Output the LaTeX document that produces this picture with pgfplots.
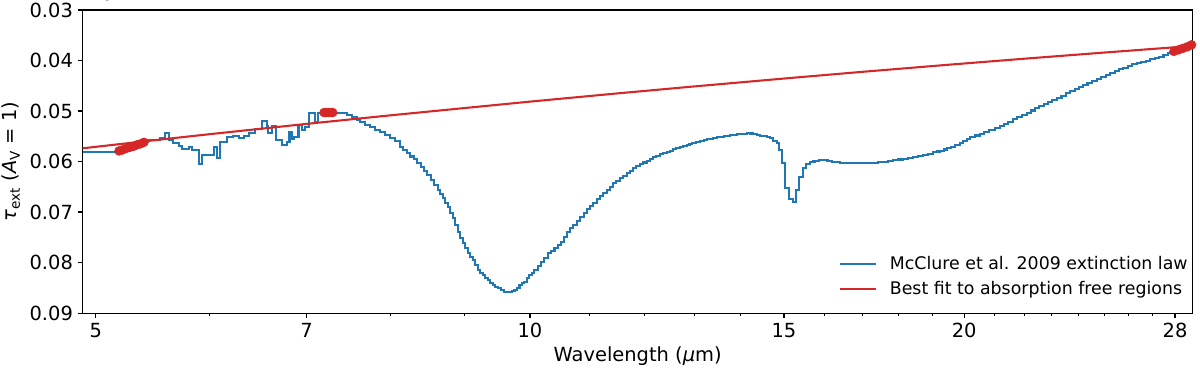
\documentclass[border=0pt]{standalone}
\usepackage{fontspec}
\setmainfont{DejaVu Sans}
\usepackage{pgfplots}
\pgfplotsset{compat=1.18}
\definecolor{mplblue}{HTML}{1F77B4}
\definecolor{mplred}{HTML}{D62728}
\begin{document}
\begin{tikzpicture}
\useasboundingbox (-59.5pt,-41.8pt) rectangle (804.5pt,225.4pt);
\begin{axis}[
    at={(0,0)}, anchor=south west,
    width=799.2pt, height=218.2pt, scale only axis,
    xmode=log, xmin=4.897, xmax=28.8,
    ymin=0.03, ymax=0.09, y dir=reverse,
    xtick={5,7,10,15,20,28},
    xticklabels={5,7,10,15,20,28},
    minor xtick={6,8,9,11,12,13,14,16,17,18,19,21,22,23,24,25,26,27},
    ytick={0.03,0.04,0.05,0.06,0.07,0.08,0.09},
    yticklabels={0.03,0.04,0.05,0.06,0.07,0.08,0.09},
    tick align=outside, tick pos=left,
    major tick length=3.5pt, minor tick length=2pt,
    every major tick/.append style={line width=0.8pt, black},
    every minor tick/.append style={line width=0.6pt, black},
    axis line style={line width=0.8pt, black},
    ticklabel style={font=\fontsize{14}{16}\selectfont},
    yticklabel style={inner ysep=1pt},
    label style={font=\fontsize{14}{17}\selectfont},
    xlabel={Wavelength ({\itshape μ}m)},
    ylabel={{\itshape τ}\textsubscript{ext} ({\itshape A}\textsubscript{V} = 1)},
    legend style={draw=none, fill=none, at={(axis description cs:1.002,0.035)},
        anchor=south east, font=\fontsize{12.5}{14.5}\selectfont,
        row sep=3pt, column sep=7pt},
    legend cell align=left,
    legend image code/.code={\draw[#1] (0pt,0pt) -- (26pt,0pt);},
]
% points used for the fit
\addplot[only marks, mark=*, mark size=3.2pt, color=mplred, forget plot] coordinates {
    (5.19,0.0579) (5.22,0.0577) (5.25,0.0574) (5.28,0.0572) (5.31,0.0570)
    (5.34,0.0567) (5.37,0.0565) (5.40,0.0562)
    (7.20,0.0503) (7.225,0.0503) (7.25,0.0503) (7.275,0.0503) (7.30,0.0503)
    (27.95,0.0382) (28.15,0.0379) (28.35,0.0376) (28.55,0.0373) (28.75,0.0369)
};
% extinction law
\addplot[mplblue, line width=1.5pt, const plot mark left] coordinates {
    (4.897,0.05806) (5.170,0.05806) (5.20,0.05785) (5.23,0.05762) (5.26,0.05740)
    (5.29,0.05718) (5.32,0.05695) (5.35,0.05672) (5.38,0.05648) (5.41,0.05622)
    (5.438,0.05570) (5.543,0.05529) (5.582,0.05442) (5.623,0.05574) (5.654,0.05627)
    (5.708,0.05693) (5.738,0.05758) (5.800,0.05719) (5.831,0.05772) (5.893,0.06040)
    (5.924,0.05870) (6.037,0.05707) (6.066,0.05937) (6.097,0.05608) (6.163,0.05521)
    (6.228,0.05495) (6.282,0.05530) (6.332,0.05489) (6.383,0.05430) (6.451,0.05363)
    (6.521,0.05192) (6.570,0.05297) (6.587,0.05442) (6.623,0.05297) (6.669,0.05574)
    (6.730,0.05673) (6.784,0.05608) (6.813,0.05410) (6.839,0.05560) (6.857,0.05509)
    (6.912,0.05277) (6.947,0.05376) (6.984,0.05310) (7.031,0.05046) (7.095,0.05212)
    (7.133,0.05034) (7.385,0.05046) (7.464,0.05079) (7.523,0.05125) (7.583,0.05178)
    (7.624,0.05224) (7.685,0.05277) (7.747,0.05323) (7.809,0.05376) (7.872,0.05422)
    (7.935,0.05475) (7.998,0.05530) (8.062,0.05600) (8.127,0.05710) (8.170,0.05780)
    (8.214,0.05840) (8.260,0.05900) (8.306,0.05957) (8.352,0.06030) (8.398,0.06103)
    (8.444,0.06185) (8.490,0.06267) (8.537,0.06366) (8.584,0.06465) (8.630,0.06564)
    (8.665,0.06645) (8.699,0.06729) (8.734,0.06818) (8.769,0.06907) (8.804,0.07016)
    (8.839,0.07125) (8.875,0.07258) (8.910,0.07390) (8.946,0.07505) (8.982,0.07620)
    (9.018,0.07720) (9.054,0.07818) (9.090,0.07884) (9.127,0.07950) (9.163,0.08050)
    (9.200,0.08148) (9.237,0.08198) (9.274,0.08247) (9.311,0.08297) (9.349,0.08347)
    (9.386,0.08397) (9.424,0.08446) (9.462,0.08479) (9.500,0.08511) (9.550,0.08545)
    (9.601,0.08578) (9.640,0.08590) (9.678,0.08590) (9.717,0.08570) (9.756,0.08545)
    (9.795,0.08495) (9.834,0.08446) (9.873,0.08413) (9.912,0.08380) (9.951,0.08313)
    (9.991,0.08247) (10.031,0.08198) (10.071,0.08148) (10.125,0.08066) (10.179,0.07984)
    (10.233,0.07901) (10.288,0.07818) (10.343,0.07768) (10.399,0.07719) (10.455,0.07655)
    (10.51,0.07590) (10.56,0.07490) (10.609,0.07390) (10.664,0.07323) (10.718,0.07257)
    (10.778,0.07181) (10.838,0.07105) (10.899,0.07025) (10.960,0.06946) (11.012,0.06881)
    (11.065,0.06816) (11.122,0.06750) (11.18,0.06683) (11.242,0.06623) (11.305,0.06564)
    (11.36,0.06498) (11.414,0.06432) (11.478,0.06383) (11.542,0.06333) (11.607,0.06284)
    (11.672,0.06234) (11.728,0.06185) (11.784,0.06135) (11.85,0.06095) (11.916,0.06055)
    (11.983,0.06020) (12.05,0.05984) (12.11,0.05950) (12.17,0.05917) (12.235,0.05887)
    (12.30,0.05857) (12.37,0.05835) (12.44,0.05812) (12.50,0.05785) (12.56,0.05758)
    (12.63,0.05738) (12.70,0.05719) (12.77,0.05699) (12.84,0.05679) (12.90,0.05660)
    (12.96,0.05640) (13.04,0.05620) (13.12,0.05600) (13.195,0.05580) (13.27,0.05560)
    (13.33,0.05548) (13.39,0.05535) (13.47,0.05522) (13.55,0.05509) (13.625,0.05499)
    (13.70,0.05489) (13.765,0.05479) (13.83,0.05469) (13.91,0.05462) (13.99,0.05455)
    (14.065,0.05448) (14.14,0.05442) (14.21,0.05445) (14.28,0.05455) (14.36,0.05472)
    (14.44,0.05489) (14.51,0.05500) (14.59,0.05520) (14.67,0.05541) (14.74,0.05588)
    (14.83,0.05640) (14.88,0.05772) (14.95,0.06036) (15.02,0.06531) (15.12,0.06743)
    (15.22,0.06796) (15.29,0.06564) (15.37,0.06301) (15.47,0.06135) (15.54,0.06055)
    (15.64,0.06016) (15.70,0.06000) (15.76,0.05990) (15.86,0.05978) (15.97,0.05970)
    (16.08,0.05985) (16.20,0.06004) (16.30,0.06015) (16.41,0.06024) (16.54,0.06030)
    (16.67,0.06036) (16.80,0.06036) (16.92,0.06036) (17.02,0.06036) (17.15,0.06030)
    (17.29,0.06024) (17.43,0.06014) (17.57,0.06004) (17.71,0.05990) (17.85,0.05976)
    (18.00,0.05960) (18.14,0.05945) (18.29,0.05925) (18.43,0.05905) (18.58,0.05885)
    (18.73,0.05865) (18.88,0.05842) (19.04,0.05818) (19.15,0.05802) (19.25,0.05786)
    (19.36,0.05762) (19.46,0.05739) (19.59,0.05706) (19.72,0.05673) (19.86,0.05640)
    (19.97,0.05600) (20.09,0.05560) (20.20,0.05521) (20.35,0.05484) (20.50,0.05447)
    (20.65,0.05410) (20.82,0.05372) (21.00,0.05335) (21.17,0.05297) (21.32,0.05253)
    (21.46,0.05209) (21.61,0.05165) (21.77,0.05121) (21.94,0.05078) (22.10,0.05034)
    (22.25,0.04990) (22.40,0.04945) (22.55,0.04901) (22.70,0.04861) (22.86,0.04822)
    (23.01,0.04782) (23.18,0.04738) (23.36,0.04694) (23.53,0.04650) (23.69,0.04606)
    (23.86,0.04563) (24.02,0.04519) (24.19,0.04479) (24.35,0.04440) (24.52,0.04400)
    (24.71,0.04362) (24.89,0.04325) (25.08,0.04287) (25.25,0.04249) (25.43,0.04212)
    (25.60,0.04174) (25.78,0.04141) (25.96,0.04108) (26.14,0.04075) (26.34,0.04051)
    (26.53,0.04028) (26.73,0.04004) (26.92,0.03978) (27.11,0.03951) (27.30,0.03925)
    (27.49,0.03892) (27.69,0.03859) (27.88,0.03826) (28.09,0.03797) (28.30,0.03768)
    (28.52,0.03739) (28.70,0.03700) (28.90,0.03675)
};
\addlegendentry{McClure et al. 2009 extinction law}
% fitted continuum
\addplot[mplred, line width=1.5pt] coordinates {
    (4.897,0.05738) (5.5,0.05576) (6,0.05458) (7,0.05255) (8,0.05086)
    (10,0.04814) (11.5,0.04651) (13,0.04513) (15,0.04357) (17,0.04224)
    (19.5,0.04084) (22,0.03965) (25,0.03843) (28.8,0.03711)
};
\addlegendentry{Best fit to absorption free regions}
\end{axis}
\end{tikzpicture}
\end{document}
